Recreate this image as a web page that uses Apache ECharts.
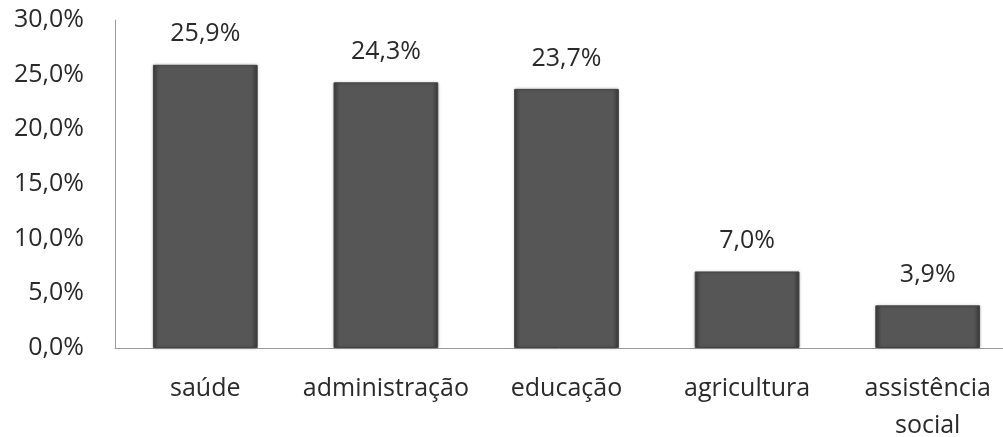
<!DOCTYPE html>
<html>
<head>
<meta charset="utf-8">
<script src="https://cdn.jsdelivr.net/npm/echarts@6/dist/echarts.min.js"></script>
<style>
  html, body { margin: 0; padding: 0; background: #fff; }
  #chart { width: 1003px; height: 437px; }
</style>
</head>
<body>
<div id="chart"></div>
<script>
const categories = ['saúde', 'administração', 'educação', 'agricultura', 'assistência\nsocial']
const percentages = [25.9, 24.3, 23.7, 7.0, 3.9]

const fmt = (v, d) => v.toFixed(d).replace('.', ',') + '%'

const chart = echarts.init(document.getElementById('chart'))
chart.setOption({
  animation: false,
  textStyle: { fontFamily: 'Open Sans' },
  grid: { left: 115, right: -15, top: 20, bottom: 89, outerBoundsMode: 'none', containLabel: false },
  xAxis: {
    type: 'category',
    data: categories,
    axisLine: { lineStyle: { color: '#9a9a9a', width: 1 } },
    axisTick: { show: false },
    axisLabel: { color: '#2a2a2a', fontSize: 25, margin: 22, lineHeight: 37, interval: 0 }
  },
  yAxis: {
    type: 'value',
    min: 0,
    max: 30,
    interval: 5,
    axisLine: { show: true, lineStyle: { color: '#9a9a9a', width: 1 } },
    axisTick: { show: false },
    splitLine: { show: false },
    axisLabel: { color: '#2a2a2a', fontSize: 25, margin: 31, formatter: v => fmt(v, 1) }
  },
  series: [
    {
      type: 'bar',
      data: percentages,
      barWidth: '58%',
      itemStyle: {
        color: {
          type: 'linear', x: 0, y: 0, x2: 1, y2: 0,
          colorStops: [
            { offset: 0, color: '#3a3a3a' },
            { offset: 0.06, color: '#565656' },
            { offset: 0.94, color: '#565656' },
            { offset: 1, color: '#3a3a3a' }
          ]
        },
        borderColor: '#444',
        borderWidth: 1,
        shadowColor: 'rgba(0,0,0,0.25)',
        shadowBlur: 3
      },
      label: {
        show: true,
        position: 'top',
        distance: 18,
        color: '#2a2a2a',
        fontSize: 25,
        formatter: p => fmt(p.value, 1)
      }
    }
  ]
})
</script>
</body>
</html>
